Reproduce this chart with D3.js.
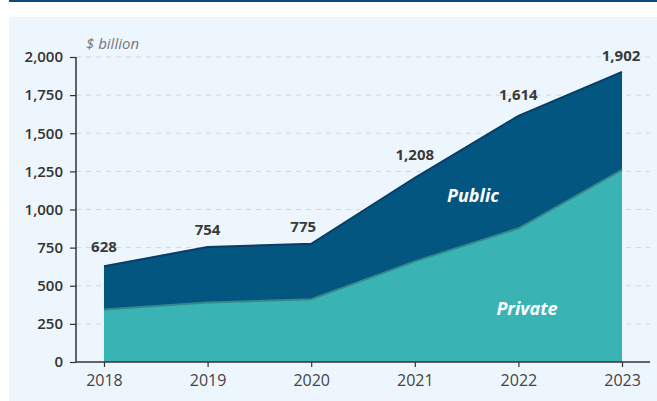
<!DOCTYPE html>
<html>
<head>
<meta charset="utf-8">
<script src="https://cdn.jsdelivr.net/npm/d3@7"></script>
<style>
  body { margin: 0; background: #fff; }
  svg { display: block; font-family: 'Open Sans', sans-serif; }
</style>
</head>
<body>
<svg id="canvas" width="657" height="401"></svg>
<script>
let years = ['2018', '2019', '2020', '2021', '2022', '2023']
let privateValues = [345, 390, 412, 660, 877, 1260]
let totalValues = [628, 754, 775, 1208, 1614, 1902]
let yTicks = [0, 250, 500, 750, 1000, 1250, 1500, 1750, 2000]

let canvas = d3.select('#canvas')

// top rule + panel
canvas.append('rect').attr('x', 9).attr('y', 0).attr('width', 648).attr('height', 2).attr('fill', '#0b4a7c')
canvas.append('rect').attr('x', 9).attr('y', 17).attr('width', 648).attr('height', 384).attr('fill', '#eef6fd')

let x = d3.scalePoint().domain(years).range([76, 650]).padding(0.27)
let y = d3.scaleLinear().domain([0, 2000]).range([362, 57])

// grid
canvas.append('g').selectAll('line')
  .data(yTicks.filter(d => d > 0))
  .enter()
  .append('line')
  .attr('x1', 76).attr('x2', 650)
  .attr('y1', d => y(d)).attr('y2', d => y(d))
  .attr('stroke', '#d3d6da')
  .attr('stroke-dasharray', '5,5')

let rows = years.map((yr, i) => ({ year: yr, priv: privateValues[i], total: totalValues[i] }))

let publicArea = d3.area().x(d => x(d.year)).y0(d => y(d.priv)).y1(d => y(d.total))
let privateArea = d3.area().x(d => x(d.year)).y0(y(0)).y1(d => y(d.priv))

canvas.append('path').datum(rows).attr('d', publicArea).attr('fill', '#03567f')
canvas.append('path').datum(rows).attr('d', privateArea).attr('fill', '#3ab3b5')

canvas.append('path').datum(rows)
  .attr('d', d3.line().x(d => x(d.year)).y(d => y(d.priv)))
  .attr('fill', 'none').attr('stroke', '#35888a').attr('stroke-width', 2)
canvas.append('path').datum(rows)
  .attr('d', d3.line().x(d => x(d.year)).y(d => y(d.total)))
  .attr('fill', 'none').attr('stroke', '#083d69').attr('stroke-width', 2)

// axes
let yAxis = canvas.append('g')
  .attr('transform', 'translate(76,0)')
  .call(d3.axisLeft(y).tickValues(yTicks).tickSize(6).tickPadding(7).tickFormat(d3.format(',')))
yAxis.select('.domain').attr('stroke', '#333').attr('stroke-width', 1.5).attr('d', 'M0,' + y(2000) + 'V' + y(0))
yAxis.selectAll('.tick line').attr('stroke', '#333').attr('stroke-width', 1.2)
yAxis.selectAll('text').attr('font-size', 15).attr('font-weight', 600).attr('fill', '#333').attr('font-family', 'Open Sans')

let xAxis = canvas.append('g')
  .attr('transform', 'translate(0,' + y(0) + ')')
  .call(d3.axisBottom(x).tickSize(5).tickPadding(8))
xAxis.select('.domain').attr('stroke', '#333').attr('stroke-width', 1.5).attr('d', 'M76,0H650')
xAxis.selectAll('.tick line').attr('stroke', '#333').attr('stroke-width', 1.2)
xAxis.selectAll('text').attr('font-size', 16).attr('fill', '#444').attr('font-family', 'Open Sans')

// unit label
canvas.append('text').attr('x', 86).attr('y', 49)
  .attr('font-size', 15).attr('font-style', 'italic').attr('fill', '#777')
  .text('$ billion')

// total labels
let labelShift = [[0, -14], [0, -12], [-8, -12], [0, -18], [0, -16], [-1, -11]]
canvas.append('g').selectAll('text')
  .data(rows)
  .enter()
  .append('text')
  .attr('x', (d, i) => x(d.year) + labelShift[i][0])
  .attr('y', (d, i) => y(d.total) + labelShift[i][1])
  .attr('text-anchor', 'middle')
  .attr('font-size', 15).attr('font-weight', 700).attr('fill', '#3a3a3a')
  .text(d => d3.format(',')(d.total))

// series labels
canvas.append('text').attr('x', 473).attr('y', 202).attr('text-anchor', 'middle')
  .attr('font-size', 18).attr('font-weight', 700).attr('font-style', 'italic').attr('fill', '#fff')
  .text('Public')
canvas.append('text').attr('x', 527).attr('y', 315).attr('text-anchor', 'middle')
  .attr('font-size', 18).attr('font-weight', 700).attr('font-style', 'italic').attr('fill', '#fff')
  .text('Private')
</script>
</body>
</html>
